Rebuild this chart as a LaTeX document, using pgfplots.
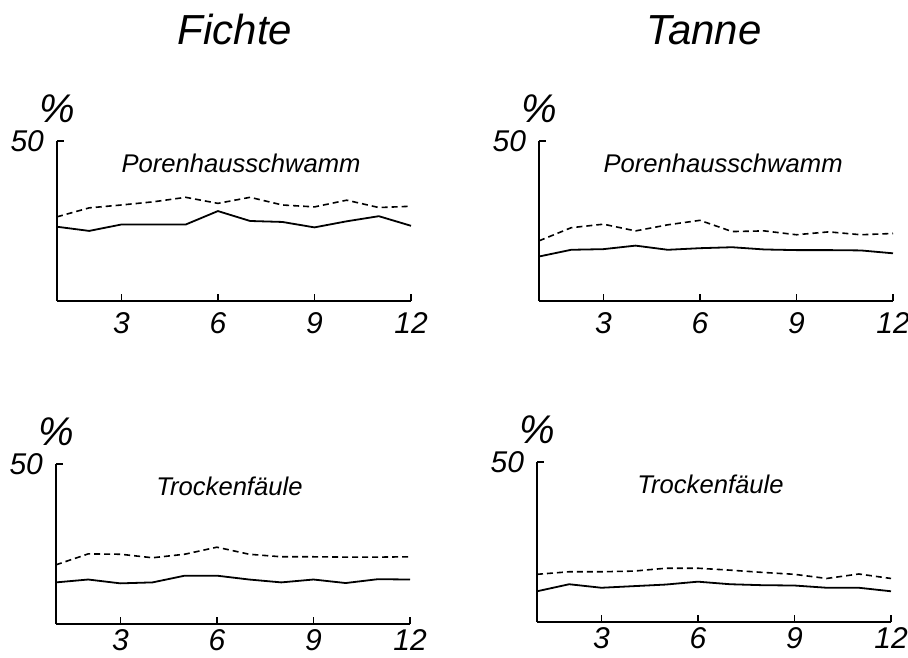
\documentclass[border=0pt]{standalone}
\usepackage{pgfplots}
\pgfplotsset{compat=1.18}
\usepackage{fontspec}
\setmainfont{Liberation Sans}

\pgfplotsset{
  panel/.style={
    scale only axis, width=177pt, height=80pt,
    xmin=1, xmax=12, ymin=0, ymax=50,
    axis x line*=bottom, axis y line*=left,
    axis line style={line width=0.9pt, -},
    xtick={3,6,9,12}, ytick={50},
    tick align=inside, major tick length=3.5pt,
    tick style={line width=0.8pt, black},
    /pgf/number format/assume math mode=true,
    ticklabel style={font=\itshape\fontsize{15}{15}\selectfont},
    xticklabel style={yshift=-2pt},
    yticklabel style={xshift=-3pt},
    clip=false,
  },
  lower/.style={xticklabel style={yshift=3pt}},
  meas/.style={black, line width=0.9pt},
  calc/.style={black, line width=0.8pt, dash pattern=on 3pt off 2pt},
}

\begin{document}
\begin{tikzpicture}
\path[use as bounding box] (0pt,0pt) rectangle (454pt,328.5pt);

\node[anchor=base, font=\itshape\fontsize{21}{21}\selectfont] at (117.5pt,306pt) {Fichte};
\node[anchor=base, font=\itshape\fontsize{21}{21}\selectfont] at (352pt,306pt) {Tanne};

% Fichte, Porenhausschwamm
\begin{axis}[panel, at={(28.5pt,178pt)}, anchor=south west]
\addplot[meas] coordinates {(1,23.2)(2,21.9)(3,23.9)(4,23.9)(5,23.9)(6,28.1)(7,25.0)(8,24.7)(9,23.0)(10,24.9)(11,26.5)(12,23.5)};
\addplot[calc] coordinates {(1,26.3)(2,29.1)(3,30.0)(4,31.0)(5,32.4)(6,30.5)(7,32.4)(8,30.0)(9,29.4)(10,31.5)(11,29.2)(12,29.6)};
\node[anchor=base, font=\itshape\fontsize{12.8}{12.8}\selectfont] at (rel axis cs:0.52,0.8) {Porenhausschwamm};
\node[anchor=base, font=\itshape\fontsize{20}{20}\selectfont, yshift=9pt] at (rel axis cs:0,1) {\%};
\end{axis}

% Tanne, Porenhausschwamm
\begin{axis}[panel, at={(269.5pt,178pt)}, anchor=south west]
\addplot[meas] coordinates {(1,13.9)(2,16.0)(3,16.2)(4,17.3)(5,16.0)(6,16.5)(7,16.8)(8,16.1)(9,15.9)(10,15.9)(11,15.8)(12,14.9)};
\addplot[calc] coordinates {(1,18.8)(2,22.9)(3,24.0)(4,21.9)(5,23.8)(6,25.2)(7,21.7)(8,21.9)(9,20.7)(10,21.6)(11,20.7)(12,21.1)};
\node[anchor=base, font=\itshape\fontsize{12.8}{12.8}\selectfont] at (rel axis cs:0.52,0.8) {Porenhausschwamm};
\node[anchor=base, font=\itshape\fontsize{20}{20}\selectfont, yshift=9pt] at (rel axis cs:0,1) {\%};
\end{axis}

% Fichte, Trockenfaeule
\begin{axis}[panel, lower, at={(28pt,16.5pt)}, anchor=south west]
\addplot[meas] coordinates {(1,13.0)(2,13.9)(3,12.7)(4,13.0)(5,15.1)(6,15.1)(7,13.9)(8,13.0)(9,13.9)(10,12.8)(11,14.0)(12,13.9)};
\addplot[calc] coordinates {(1,18.5)(2,21.9)(3,21.8)(4,20.7)(5,21.8)(6,24.0)(7,21.8)(8,21.0)(9,21.0)(10,20.9)(11,20.9)(12,21.0)};
\node[anchor=base, font=\itshape\fontsize{12.8}{12.8}\selectfont] at (rel axis cs:0.49,0.8) {Trockenfäule};
\node[anchor=base, font=\itshape\fontsize{20}{20}\selectfont, yshift=9pt] at (rel axis cs:0,1) {\%};
\end{axis}

% Tanne, Trockenfaeule
\begin{axis}[panel, lower, at={(268.5pt,17.5pt)}, anchor=south west]
\addplot[meas] coordinates {(1,9.6)(2,11.8)(3,10.7)(4,11.2)(5,11.7)(6,12.6)(7,11.8)(8,11.5)(9,11.4)(10,10.7)(11,10.7)(12,9.6)};
\addplot[calc] coordinates {(1,14.9)(2,15.7)(3,15.7)(4,15.9)(5,16.8)(6,16.8)(7,16.2)(8,15.5)(9,14.9)(10,13.6)(11,15.0)(12,13.6)};
\node[anchor=base, font=\itshape\fontsize{12.8}{12.8}\selectfont] at (rel axis cs:0.49,0.8) {Trockenfäule};
\node[anchor=base, font=\itshape\fontsize{20}{20}\selectfont, yshift=9pt] at (rel axis cs:0,1) {\%};
\end{axis}
\end{tikzpicture}
\end{document}
